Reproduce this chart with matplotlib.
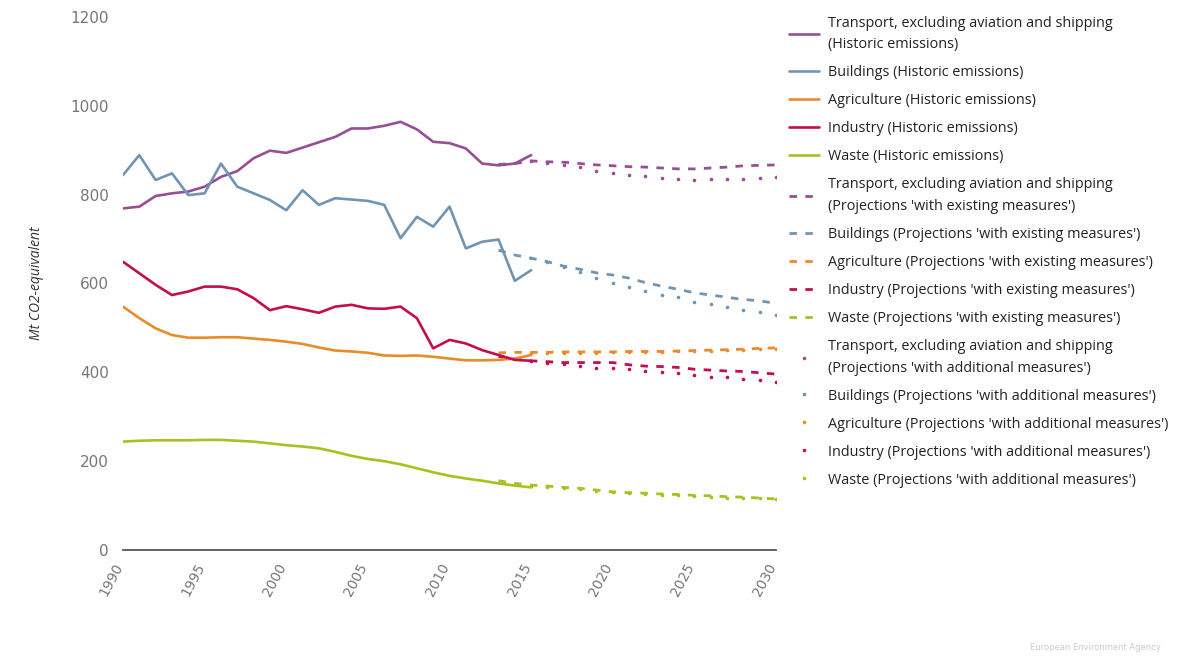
import matplotlib
matplotlib.use("Agg")
import matplotlib.pyplot as plt
import matplotlib.transforms as mtransforms

# historic emissions, Mt CO2-equivalent
years_hist = list(range(1990, 2016))
transport_hist = [769, 773, 797, 803, 807, 818, 840, 853, 882, 899, 894, 906, 918,
                  930, 949, 949, 955, 964, 947, 919, 916, 904, 870, 866, 870, 889]
buildings_hist = [844, 889, 833, 848, 799, 803, 870, 818, 803, 788, 765, 810, 777,
                  792, 789, 786, 777, 702, 750, 728, 773, 679, 694, 699, 606, 630]
agriculture_hist = [548, 522, 499, 484, 478, 478, 479, 479, 476, 473, 469, 464, 456,
                    449, 447, 444, 438, 437, 438, 435, 431, 427, 427, 428, 431, 439]
industry_hist = [649, 623, 597, 574, 582, 593, 593, 587, 567, 540, 549, 542, 534,
                 548, 552, 544, 543, 548, 522, 454, 473, 465, 450, 439, 428, 426]
waste_hist = [244, 246, 247, 247, 247, 248, 248, 246, 244, 240, 236, 233, 229,
              221, 212, 205, 200, 193, 184, 175, 167, 161, 156, 150, 145, 141]

# projections 'with existing measures'
years_wem = list(range(2013, 2031))
transport_wem = [868, 870, 876, 874, 873, 870, 867, 865, 863, 862, 860, 858, 858,
                 860, 862, 865, 866, 867]
buildings_wem = [675, 664, 657, 649, 639, 632, 624, 619, 612, 602, 594, 587, 579,
                 574, 569, 564, 561, 555]
agriculture_wem = [444, 445, 445, 445, 446, 446, 446, 446, 447, 447, 447, 448, 449,
                   450, 451, 452, 454, 455]
industry_wem = [436, 430, 426, 424, 422, 422, 422, 422, 417, 414, 413, 411, 407,
                405, 403, 402, 399, 396]
waste_wem = [156, 150, 146, 144, 141, 139, 135, 131, 129, 128, 126, 125, 123,
             122, 120, 119, 117, 115]

# projections 'with additional measures'
years_wam = list(range(2015, 2031))
transport_wam = [876, 872, 867, 863, 854, 848, 845, 842, 838, 836, 833, 835, 835,
                 836, 837, 839]
buildings_wam = [657, 649, 638, 627, 612, 600, 593, 582, 574, 569, 558, 553, 546,
                 540, 535, 528]
agriculture_wam = [443, 443, 444, 444, 444, 445, 445, 446, 446, 447, 448, 449, 450,
                   451, 452, 453]
industry_wam = [426, 422, 418, 414, 410, 410, 407, 403, 401, 398, 393, 390, 389,
                386, 383, 379]
waste_wam = [145, 143, 140, 137, 133, 130, 128, 126, 124, 123, 121, 120, 118,
             117, 116, 114]

wrapped = ["Transport, excluding aviation and shipping\n", "Buildings ", "Agriculture ",
           "Industry ", "Waste "]
colors = ["#984e94", "#7095b3", "#e88c2a", "#c30d4f", "#a5c21f"]
hist = [transport_hist, buildings_hist, agriculture_hist, industry_hist, waste_hist]
wem = [transport_wem, buildings_wem, agriculture_wem, industry_wem, waste_wem]
wam = [transport_wam, buildings_wam, agriculture_wam, industry_wam, waste_wam]

fig = plt.figure(figsize=(11.78, 6.63), dpi=100)
ax = fig.add_axes([0.1044, 0.1704, 0.5544, 0.804])

handles = []
labels = []
for name, c, h in zip(wrapped, colors, hist):
    ln, = ax.plot(years_hist, h, color=c, lw=1.9, solid_capstyle="round", zorder=3)
    handles.append(ln)
    labels.append(name + "(Historic emissions)")
for name, c, w in zip(wrapped, colors, wem):
    ln, = ax.plot(years_wem, w, color=c, lw=2.0, linestyle=(0, (2.7, 3.0)), zorder=2)
    handles.append(ln)
    labels.append(name + "(Projections 'with existing measures')")
for name, c, w in zip(wrapped, colors, wam):
    ln, = ax.plot(years_wam, w, color=c, ls="none", marker="o", ms=2.6, mew=0, zorder=2)
    handles.append(ln)
    labels.append(name + "(Projections 'with additional measures')")

ax.set_xlim(1990, 2030)
ax.set_ylim(0, 1200)
ax.set_xticks(range(1990, 2031, 5))
ax.set_yticks(range(0, 1201, 200))
for s in ["top", "right", "left"]:
    ax.spines[s].set_visible(False)
ax.spines["bottom"].set_color("#555555")
ax.spines["bottom"].set_linewidth(1.3)
ax.tick_params(axis="both", length=0, colors="#777777", labelsize=11)
ax.tick_params(axis="x", labelsize=10)
ax.tick_params(axis="y", pad=10)
shift = mtransforms.ScaledTranslation(-7 / 72, -4 / 72, fig.dpi_scale_trans)
for lbl in ax.get_xticklabels():
    lbl.set_rotation(62)
    lbl.set_ha("right")
    lbl.set_va("top")
    lbl.set_rotation_mode("anchor")
    lbl.set_transform(lbl.get_transform() + shift)
ax.set_ylabel("Mt CO2-equivalent", fontstyle="italic", color="#333333",
              fontsize=10, family="Open Sans", labelpad=19)

leg = fig.legend(handles, labels, loc="upper left", bbox_to_anchor=(0.665, 0.985),
                 frameon=False, prop={"family": "Open Sans", "size": 10.4},
                 handlelength=2.1, handletextpad=0.6, labelspacing=0.9,
                 borderaxespad=0)
for t in leg.get_texts():
    t.set_color("#222222")
    t.set_linespacing(1.6)

fig.text(0.985, 0.016, "European Environment Agency", ha="right", va="bottom",
         fontsize=6, color="#cccccc")

fig.savefig("out.png", dpi=100)
